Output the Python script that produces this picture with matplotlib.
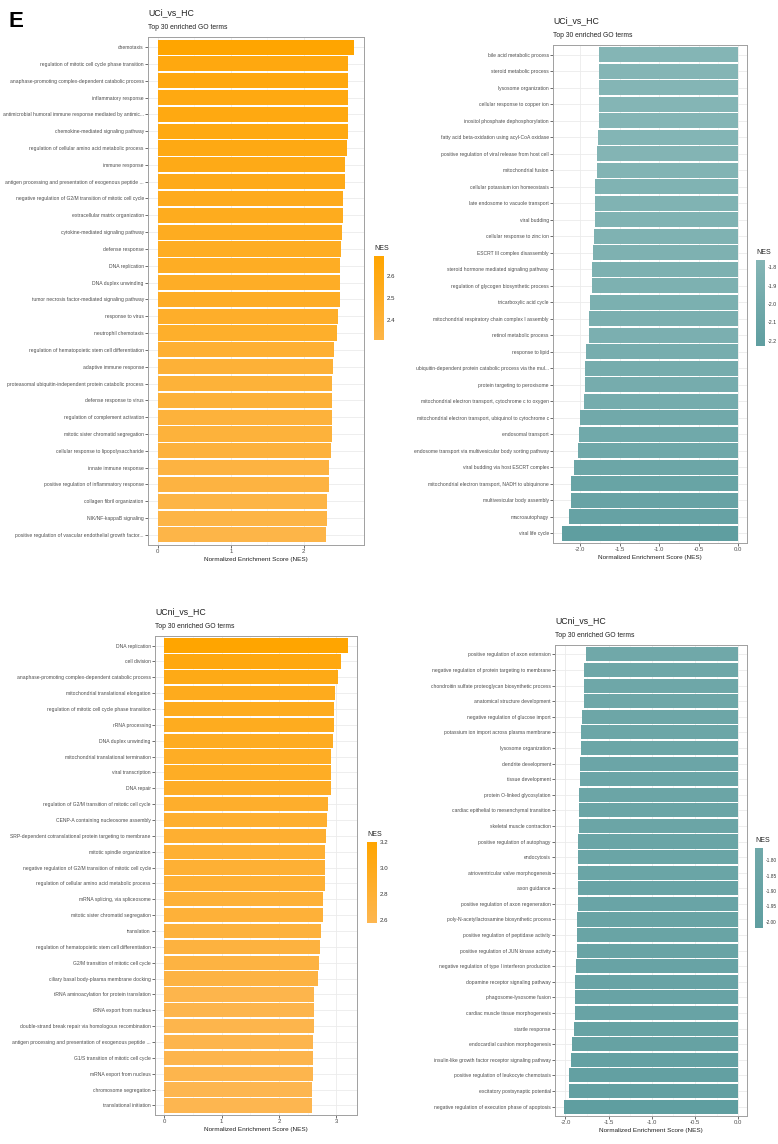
import numpy as np
import matplotlib
matplotlib.use("Agg")
import matplotlib.pyplot as plt
from matplotlib.colors import LinearSegmentedColormap, Normalize
from matplotlib.cm import ScalarMappable

plt.rcParams['font.family'] = ['Liberation Sans Narrow', 'Liberation Sans', 'DejaVu Sans']

W, H = 778, 1144

# ---- data: UCi_vs_HC, up-regulated ----
uci_up_terms = [
    "chemotaxis",
    "regulation of mitotic cell cycle phase transition",
    "anaphase-promoting complex-dependent catabolic process",
    "inflammatory response",
    "antimicrobial humoral immune response mediated by antimic...",
    "chemokine-mediated signaling pathway",
    "regulation of cellular amino acid metabolic process",
    "immune response",
    "antigen processing and presentation of exogenous peptide ...",
    "negative regulation of G2/M transition of mitotic cell cycle",
    "extracellular matrix organization",
    "cytokine-mediated signaling pathway",
    "defense response",
    "DNA replication",
    "DNA duplex unwinding",
    "tumor necrosis factor-mediated signaling pathway",
    "response to virus",
    "neutrophil chemotaxis",
    "regulation of hematopoietic stem cell differentiation",
    "adaptive immune response",
    "proteasomal ubiquitin-independent protein catabolic process",
    "defense response to virus",
    "regulation of complement activation",
    "mitotic sister chromatid segregation",
    "cellular response to lipopolysaccharide",
    "innate immune response",
    "positive regulation of inflammatory response",
    "collagen fibril organization",
    "NIK/NF-kappaB signaling",
    "positive regulation of vascular endothelial growth factor...",
]
uci_up_nes = [2.69, 2.61, 2.61, 2.60, 2.60, 2.60, 2.59, 2.57, 2.56, 2.54,
              2.53, 2.52, 2.51, 2.50, 2.49, 2.49, 2.47, 2.46, 2.42, 2.40,
              2.39, 2.39, 2.38, 2.38, 2.37, 2.35, 2.35, 2.32, 2.32, 2.31]

# ---- data: UCi_vs_HC, down-regulated ----
uci_dn_terms = [
    "bile acid metabolic process",
    "steroid metabolic process",
    "lysosome organization",
    "cellular response to copper ion",
    "inositol phosphate dephosphorylation",
    "fatty acid beta-oxidation using acyl-CoA oxidase",
    "positive regulation of viral release from host cell",
    "mitochondrial fusion",
    "cellular potassium ion homeostasis",
    "late endosome to vacuole transport",
    "viral budding",
    "cellular response to zinc ion",
    "ESCRT III complex disassembly",
    "steroid hormone mediated signaling pathway",
    "regulation of glycogen biosynthetic process",
    "tricarboxylic acid cycle",
    "mitochondrial respiratory chain complex I assembly",
    "retinol metabolic process",
    "response to lipid",
    "ubiquitin-dependent protein catabolic process via the mul...",
    "protein targeting to peroxisome",
    "mitochondrial electron transport, cytochrome c to oxygen",
    "mitochondrial electron transport, ubiquinol to cytochrome c",
    "endosomal transport",
    "endosome transport via multivesicular body sorting pathway",
    "viral budding via host ESCRT complex",
    "mitochondrial electron transport, NADH to ubiquinone",
    "multivesicular body assembly",
    "macroautophagy",
    "viral life cycle",
]
uci_dn_nes = [-1.76, -1.76, -1.76, -1.76, -1.76, -1.77, -1.78, -1.79, -1.81, -1.81,
              -1.81, -1.82, -1.84, -1.85, -1.85, -1.87, -1.88, -1.88, -1.92, -1.94,
              -1.94, -1.95, -2.00, -2.01, -2.03, -2.07, -2.11, -2.12, -2.14, -2.23]

# ---- data: UCni_vs_HC, up-regulated ----
ucni_up_terms = [
    "DNA replication",
    "cell division",
    "anaphase-promoting complex-dependent catabolic process",
    "mitochondrial translational elongation",
    "regulation of mitotic cell cycle phase transition",
    "rRNA processing",
    "DNA duplex unwinding",
    "mitochondrial translational termination",
    "viral transcription",
    "DNA repair",
    "regulation of G2/M transition of mitotic cell cycle",
    "CENP-A containing nucleosome assembly",
    "SRP-dependent cotranslational protein targeting to membrane",
    "mitotic spindle organization",
    "negative regulation of G2/M transition of mitotic cell cycle",
    "regulation of cellular amino acid metabolic process",
    "mRNA splicing, via spliceosome",
    "mitotic sister chromatid segregation",
    "translation",
    "regulation of hematopoietic stem cell differentiation",
    "G2/M transition of mitotic cell cycle",
    "ciliary basal body-plasma membrane docking",
    "tRNA aminoacylation for protein translation",
    "tRNA export from nucleus",
    "double-strand break repair via homologous recombination",
    "antigen processing and presentation of exogenous peptide ...",
    "G1/S transition of mitotic cell cycle",
    "mRNA export from nucleus",
    "chromosome segregation",
    "translational initiation",
]
ucni_up_nes = [3.20, 3.08, 3.03, 2.97, 2.96, 2.96, 2.94, 2.91, 2.91, 2.90,
               2.86, 2.83, 2.82, 2.80, 2.80, 2.80, 2.77, 2.76, 2.73, 2.71,
               2.69, 2.68, 2.61, 2.61, 2.61, 2.60, 2.60, 2.60, 2.58, 2.58]

# ---- data: UCni_vs_HC, down-regulated ----
ucni_dn_terms = [
    "positive regulation of axon extension",
    "negative regulation of protein targeting to membrane",
    "chondroitin sulfate proteoglycan biosynthetic process",
    "anatomical structure development",
    "negative regulation of glucose import",
    "potassium ion import across plasma membrane",
    "lysosome organization",
    "dendrite development",
    "tissue development",
    "protein O-linked glycosylation",
    "cardiac epithelial to mesenchymal transition",
    "skeletal muscle contraction",
    "positive regulation of autophagy",
    "endocytosis",
    "atrioventricular valve morphogenesis",
    "axon guidance",
    "positive regulation of axon regeneration",
    "poly-N-acetyllactosamine biosynthetic process",
    "positive regulation of peptidase activity",
    "positive regulation of JUN kinase activity",
    "negative regulation of type I interferon production",
    "dopamine receptor signaling pathway",
    "phagosome-lysosome fusion",
    "cardiac muscle tissue morphogenesis",
    "startle response",
    "endocardial cushion morphogenesis",
    "insulin-like growth factor receptor signaling pathway",
    "positive regulation of leukocyte chemotaxis",
    "excitatory postsynaptic potential",
    "negative regulation of execution phase of apoptosis",
]
ucni_dn_nes = [-1.76, -1.79, -1.79, -1.79, -1.81, -1.82, -1.82, -1.83, -1.83, -1.84,
               -1.84, -1.84, -1.85, -1.85, -1.85, -1.86, -1.86, -1.87, -1.87, -1.87,
               -1.88, -1.89, -1.89, -1.89, -1.90, -1.92, -1.94, -1.96, -1.96, -2.02]


def frac(l, t, r, b):
    return [l / W, 1 - b / H, (r - l) / W, (b - t) / H]


def panel(fig, title, terms, nes, box, cbox, cmap, cticks, cfmt, xticks, csize):
    ax = fig.add_axes(frac(*box))
    n = len(terms)
    y = np.arange(n)[::-1]
    vals = np.array(nes)
    norm = Normalize(vals.min(), vals.max())
    ax.barh(y, vals, height=0.9, color=cmap(norm(vals)), edgecolor='none', zorder=3)
    lo, hi = min(0, vals.min()), max(0, vals.max())
    pad = (hi - lo) * 0.05
    ax.set_xlim(lo - pad, hi + pad)
    ax.set_ylim(-0.6, n - 0.4)
    ax.set_yticks(y)
    ax.set_yticklabels(terms, fontsize=3.65, color='#4D4D4D')
    ax.set_xticks(xticks)
    if lo == 0:
        xl = [f"{t:g}" for t in xticks]
    else:
        xl = [f"{t:.1f}" for t in xticks]
    ax.set_xticklabels(xl, fontsize=4.3, color='#4D4D4D')
    minor = np.array(xticks[:-1]) + np.diff(xticks) / 2
    ax.set_xticks(minor, minor=True)
    ax.tick_params(axis='both', which='major', length=2, width=0.5, color='#333333', pad=1)
    ax.tick_params(axis='x', which='minor', length=0)
    ax.grid(True, which='major', color='#EBEBEB', linewidth=0.6, zorder=0)
    ax.grid(True, which='minor', axis='x', color='#F2F2F2', linewidth=0.4, zorder=0)
    for s in ax.spines.values():
        s.set_color('#A0A0A0')
        s.set_linewidth(0.7)
    ax.set_xlabel("Normalized Enrichment Score (NES)", fontsize=4.6, color='#222222', labelpad=2)
    ax.annotate("Top 30 enriched GO terms", xy=(0, 1), xycoords='axes fraction',
                xytext=(0, 5.8), textcoords='offset points',
                fontsize=4.9, ha='left', va='baseline', color='#222222')
    ax.annotate(title, xy=(0, 1), xycoords='axes fraction',
                xytext=(0, 15.8), textcoords='offset points',
                fontsize=6.3, ha='left', va='baseline', color='#222222')

    cax = fig.add_axes(frac(*cbox))
    sm = ScalarMappable(norm=norm, cmap=cmap)
    cb = fig.colorbar(sm, cax=cax)
    cb.outline.set_visible(False)
    cb.set_ticks(cticks)
    cb.set_ticklabels([cfmt.format(t) for t in cticks])
    cax.tick_params(labelsize=csize, length=1.5, width=0.5, color='white', pad=0.8,
                    labelcolor='#333333')
    cax.set_title("NES", fontsize=5, loc='left', pad=4, color='#222222')


orange1 = LinearSegmentedColormap.from_list("o1", ["#FDB548", "#FFA500"])
orange2 = LinearSegmentedColormap.from_list("o2", ["#FDB650", "#FFA500"])
teal1 = LinearSegmentedColormap.from_list("t1", ["#5F9EA0", "#84B5B5"])
teal2 = LinearSegmentedColormap.from_list("t2", ["#5F9EA0", "#70A8A9"])

fig = plt.figure(figsize=(W / 100, H / 100), dpi=100)

panel(fig, "UCi_vs_HC", uci_up_terms, uci_up_nes, (148, 37, 364, 545), (374, 256, 384, 340),
      orange1, [2.4, 2.5, 2.6], "{:.1f}", [0, 1, 2], 4.4)
panel(fig, "UCi_vs_HC", uci_dn_terms, uci_dn_nes, (553, 45, 747, 543), (756, 260, 765, 346),
      teal1, [-2.2, -2.1, -2.0, -1.9, -1.8], "{:.1f}", [-2.0, -1.5, -1.0, -0.5, 0.0], 3.8)
panel(fig, "UCni_vs_HC", ucni_up_terms, ucni_up_nes, (155, 636, 357, 1115), (367, 842, 377, 923),
      orange2, [2.6, 2.8, 3.0, 3.2], "{:.1f}", [0, 1, 2, 3], 4.4)
panel(fig, "UCni_vs_HC", ucni_dn_terms, ucni_dn_nes, (555, 645, 747, 1116), (755, 848, 763, 928),
      teal2, [-2.0, -1.95, -1.9, -1.85, -1.8], "{:.2f}", [-2.0, -1.5, -1.0, -0.5, 0.0], 3.4)

fig.text(8 / W, 1 - 27 / H, "E", fontsize=16, fontweight='bold', family='Liberation Sans')

fig.savefig("out.png", dpi=100)
